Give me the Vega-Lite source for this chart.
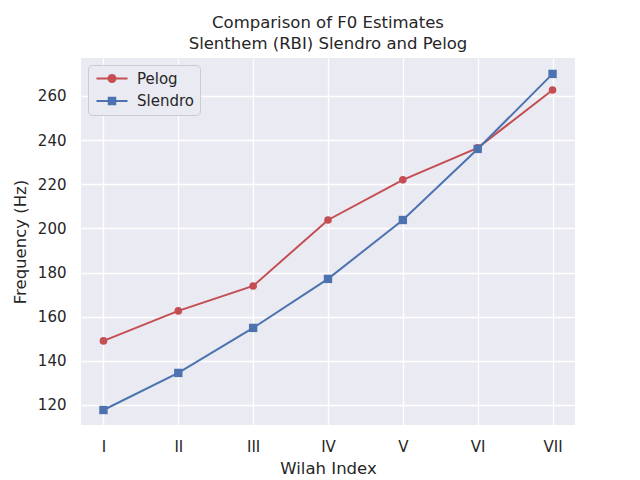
{
  "$schema": "https://vega.github.io/schema/vega-lite/v6.json",
  "width": 494,
  "height": 367,
  "autosize": {"type": "none"},
  "padding": {"left": 81, "top": 58, "right": 65, "bottom": 55},
  "background": "white",
  "title": {
    "text": ["Comparison of F0 Estimates", "Slenthem (RBI) Slendro and Pelog"],
    "font": "DejaVu Sans",
    "fontSize": 16.5,
    "fontWeight": "normal",
    "lineHeight": 21,
    "color": "#262626",
    "offset": 6
  },
  "data": {
    "values": [
      {"wilah": "I", "idx": 0, "series": "Pelog", "freq": 149},
      {"wilah": "II", "idx": 1, "series": "Pelog", "freq": 162.6},
      {"wilah": "III", "idx": 2, "series": "Pelog", "freq": 173.9},
      {"wilah": "IV", "idx": 3, "series": "Pelog", "freq": 203.8},
      {"wilah": "V", "idx": 4, "series": "Pelog", "freq": 222},
      {"wilah": "VI", "idx": 5, "series": "Pelog", "freq": 236.5},
      {"wilah": "VII", "idx": 6, "series": "Pelog", "freq": 262.7},
      {"wilah": "I", "idx": 0, "series": "Slendro", "freq": 117.7},
      {"wilah": "II", "idx": 1, "series": "Slendro", "freq": 134.5},
      {"wilah": "III", "idx": 2, "series": "Slendro", "freq": 154.9},
      {"wilah": "IV", "idx": 3, "series": "Slendro", "freq": 177.1},
      {"wilah": "V", "idx": 4, "series": "Slendro", "freq": 203.8},
      {"wilah": "VI", "idx": 5, "series": "Slendro", "freq": 236},
      {"wilah": "VII", "idx": 6, "series": "Slendro", "freq": 270}
    ]
  },
  "encoding": {
    "x": {
      "field": "wilah",
      "type": "ordinal",
      "sort": ["I", "II", "III", "IV", "V", "VI", "VII"],
      "scale": {"type": "point", "padding": 0.3},
      "axis": {"title": "Wilah Index", "labelAngle": 0, "labelPadding": 14, "titlePadding": 6}
    },
    "y": {
      "field": "freq",
      "type": "quantitative",
      "scale": {"domain": [110.9, 277.2], "nice": false, "zero": false},
      "axis": {
        "title": "Frequency (Hz)",
        "values": [120, 140, 160, 180, 200, 220, 240, 260],
        "labelPadding": 15,
        "titlePadding": 9
      }
    }
  },
  "layer": [
    {
      "transform": [{"filter": "datum.series === 'Pelog'"}],
      "mark": {"type": "line", "strokeWidth": 2, "color": "#C44E52"},
      "encoding": {"order": {"field": "idx"}}
    },
    {
      "transform": [{"filter": "datum.series === 'Pelog'"}],
      "mark": {"type": "point", "shape": "circle", "filled": true, "opacity": 1, "size": 58, "color": "#C44E52"},
      "encoding": {}
    },
    {
      "transform": [{"filter": "datum.series === 'Slendro'"}],
      "mark": {"type": "line", "strokeWidth": 2, "color": "#4C72B0"},
      "encoding": {"order": {"field": "idx"}}
    },
    {
      "transform": [{"filter": "datum.series === 'Slendro'"}],
      "mark": {"type": "point", "shape": "square", "filled": true, "opacity": 1, "size": 70, "color": "#4C72B0"},
      "encoding": {}
    },
    {
      "transform": [{"filter": "false"}],
      "mark": {"type": "point", "filled": false, "opacity": 1, "strokeWidth": 2},
      "encoding": {
        "color": {
          "field": "series",
          "type": "nominal",
          "scale": {"domain": ["Pelog", "Slendro"], "range": ["#C44E52", "#4C72B0"]},
          "legend": {
            "title": null,
            "orient": "top-left",
            "offset": 7,
            "padding": 6,
            "rowPadding": 6.5,
            "symbolSize": 100,
            "symbolStrokeWidth": 2,
            "labelOffset": 28
          }
        },
        "shape": {
          "field": "series",
          "type": "nominal",
          "scale": {
            "domain": ["Pelog", "Slendro"],
            "range": [
              "M-1,0H5.2M2.8,0A0.7,0.7 0 1,1 1.4,0A0.7,0.7 0 1,1 2.8,0M2.5,0A0.4,0.4 0 1,1 1.7,0A0.4,0.4 0 1,1 2.5,0M2.2,0A0.1,0.1 0 1,1 2,0A0.1,0.1 0 1,1 2.2,0",
              "M-1,0H5.2M1.45,-0.65H2.75V0.65H1.45ZM1.75,-0.35H2.45V0.35H1.75ZM2.05,-0.05H2.15V0.05H2.05Z"
            ]
          },
          "legend": {
            "title": null,
            "orient": "top-left",
            "offset": 7,
            "padding": 6,
            "rowPadding": 6.5,
            "symbolSize": 100,
            "symbolStrokeWidth": 2,
            "labelOffset": 28
          }
        }
      }
    }
  ],
  "config": {
    "font": "DejaVu Sans",
    "view": {"fill": "#EAEAF2", "stroke": null},
    "axis": {
      "domain": false,
      "ticks": false,
      "grid": true,
      "gridColor": "white",
      "gridWidth": 1.3,
      "labelFont": "DejaVu Sans",
      "labelFontSize": 15,
      "labelColor": "#262626",
      "titleFont": "DejaVu Sans",
      "titleFontSize": 16.5,
      "titleFontWeight": "normal",
      "titleColor": "#262626"
    },
    "legend": {
      "labelFont": "DejaVu Sans",
      "labelFontSize": 15,
      "labelColor": "#262626",
      "fillColor": "#EAEAF2",
      "strokeColor": "#CCCCCC",
      "cornerRadius": 4
    }
  }
}
